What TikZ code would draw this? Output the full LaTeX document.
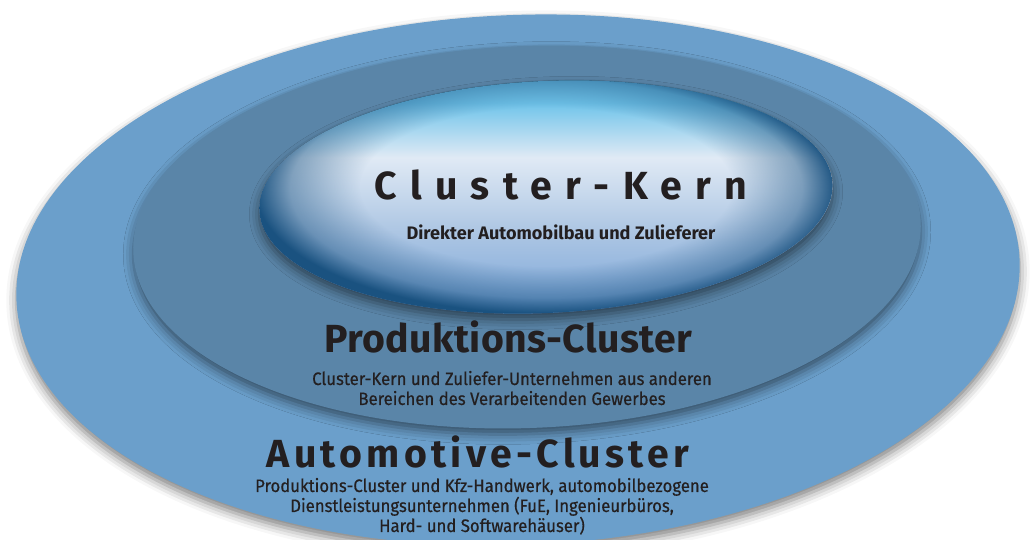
\documentclass[tikz,border=0pt]{standalone}
\usepackage{fontspec}
\setmainfont{Fira Sans}
\newfontfamily\descfont[FakeBold=0.6,FakeStretch=0.93]{Fira Sans}
\usetikzlibrary{shadows.blur,fadings}
\definecolor{outerblue}{RGB}{107,159,203}
\definecolor{prodblue}{RGB}{90,133,168}
\definecolor{kernrim}{RGB}{26,82,128}
\definecolor{kerntop}{RGB}{112,196,234}
\definecolor{kernlight}{RGB}{224,234,245}
\definecolor{kernmid}{RGB}{176,200,228}
\definecolor{kernlow}{RGB}{118,163,216}
\definecolor{textdark}{RGB}{35,31,32}
\pgfdeclareverticalshading{kernvert}{100bp}{color(0bp)=(kernlow); color(25bp)=(kernlow); color(44bp)=(kernmid); color(58bp)=(kernlight); color(69bp)=(kerntop); color(75bp)=(kerntop); color(100bp)=(kerntop)}
\pgfdeclareradialshading{rimmask}{\pgfpoint{0bp}{3bp}}{color(0bp)=(black); color(16bp)=(black); color(22bp)=(white!45!black); color(25bp)=(white); color(50bp)=(white)}
\pgfdeclarefading{rimfade}{\pgfuseshading{rimmask}}
\begin{document}
\begin{tikzpicture}[x=0.5pt,y=0.5pt,
  ring/.style={blur shadow={shadow xshift=0pt,shadow yshift=-3pt,shadow blur radius=5pt,shadow opacity=50}},
  title/.style={text=textdark,inner sep=0pt,anchor=base},
  desc/.style={text=textdark,font=\descfont\fontsize{9}{10}\selectfont,align=center,inner sep=0pt,anchor=base}]
\useasboundingbox (0,0) rectangle (1034,540);
% rings, outside in
\fill[outerblue,ring,rotate around={2.3:(518,260)}] (518,260) ellipse [x radius=502,y radius=265];
\fill[prodblue,ring,rotate around={2.2:(527,303)}] (527,303) ellipse [x radius=394,y radius=191];
\fill[shading=kernvert,ring,rotate around={2.7:(546,343)}] (546,343) ellipse [x radius=287,y radius=116];
\fill[kernrim,path fading=rimfade,rotate around={2.7:(546,343)}] (546,343) ellipse [x radius=287,y radius=116];
% labels
\node[title,font=\bfseries\addfontfeatures{LetterSpace=34}\fontsize{19.6}{20}\selectfont] (kern) at (561,340) {Cluster-Kern};
\node[desc,font=\bfseries\fontsize{9.05}{10}\selectfont] (kerntext) at (561,300) {Direkter Automobilbau und Zulieferer};
\node[title,font=\bfseries\addfontfeatures{LetterSpace=1}\fontsize{19.6}{20}\selectfont] (prod) at (508,187) {Produktions-Cluster};
\node[desc] (prodtext) at (512,135) {Cluster-Kern und Zuliefer-Unternehmen aus anderen\\Bereichen des Verarbeitenden Gewerbes};
\node[title,font=\bfseries\addfontfeatures{LetterSpace=11}\fontsize{19.6}{20}\selectfont] (auto) at (478,72) {Automotive-Cluster};
\node[desc] (autotext) at (482,8) {Produktions-Cluster und Kfz-Handwerk, automobilbezogene\\Dienstleistungsunternehmen (FuE, Ingenieurbüros,\\Hard- und Softwarehäuser)};
\end{tikzpicture}
\end{document}
